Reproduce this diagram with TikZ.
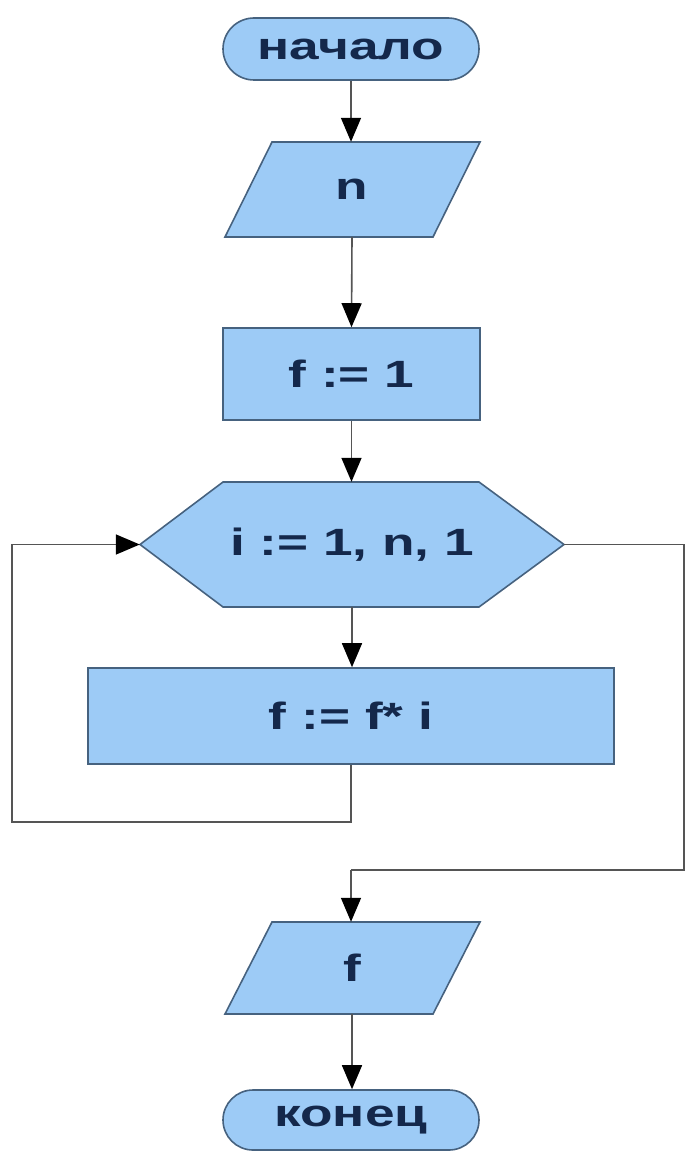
\documentclass[tikz,border=0pt]{standalone}
\usepackage{fontspec}
\newfontfamily\ff[FakeStretch=1.4]{Liberation Sans}
\usetikzlibrary{arrows.meta,shapes.misc}
\definecolor{fillb}{HTML}{9DCBF6}
\definecolor{edgeb}{HTML}{46627F}
\definecolor{txt}{HTML}{14284B}
\definecolor{lin}{HTML}{555555}
\begin{document}
\begin{tikzpicture}[x=1pt,y=-1pt,
  shp/.style={draw=edgeb,fill=fillb,line width=1.6pt},
  lbl/.style={inner sep=0pt,text=txt,font=\ff\bfseries\fontsize{38}{38}\selectfont},
  term/.style={shp,lbl,rounded rectangle,minimum width=256pt,minimum height=62pt},
  proc/.style={shp,lbl,rectangle},
  conn/.style={draw=lin,line width=1.6pt},
  arr/.style={conn,-{Triangle[width=20pt,length=24pt,black]}}]
\useasboundingbox (0,0) rectangle (686,1169);
% start
\node[term] (start) at (351,49) {начало};
% input n
\draw[shp] (272,142) -- (480,142) -- (433,237) -- (225,237) -- cycle;
\node[lbl,minimum width=255pt,minimum height=95pt] (inp) at (352,189.5) {n};
% f := 1
\node[proc,minimum width=257pt,minimum height=92pt] (init) at (351.5,374) {f := 1};
% loop hexagon
\draw[shp] (223,482) -- (479,482) -- (564,544.5) -- (479,607) -- (223,607) -- (140,544.5) -- cycle;
\node[lbl,minimum width=424pt,minimum height=125pt] (loop) at (352,544.5) {i := 1, n, 1};
% body
\node[proc,minimum width=526pt,minimum height=96pt] (body) at (351,716) {f := f* i};
% output f
\draw[shp] (272,922) -- (480,922) -- (433,1014) -- (225,1014) -- cycle;
\node[lbl,minimum width=255pt,minimum height=92pt] (outp) at (352,968) {f};
% end
\node[term,minimum height=60pt] (stop) at (351,1120) {конец};
% connectors
\draw[arr] (start.south) -- (start.south |- inp.north);
\draw[arr] (inp.south) -- (init.north);
\draw[arr] (init.south) -- (init.south |- loop.north);
\draw[arr] (loop.south) -- (loop.south |- body.north);
\coordinate (lb) at (12,822);
\draw[arr] (body.south) |- (lb) |- (loop.west);
\coordinate (rc) at (684,870);
\coordinate (jn) at (351,870);
\draw[conn] (loop.east) -| (rc) -- (jn);
\draw[arr] (jn) -- (jn |- outp.north);
\draw[arr] (outp.south) -- (outp.south |- stop.north);
\end{tikzpicture}
\end{document}
